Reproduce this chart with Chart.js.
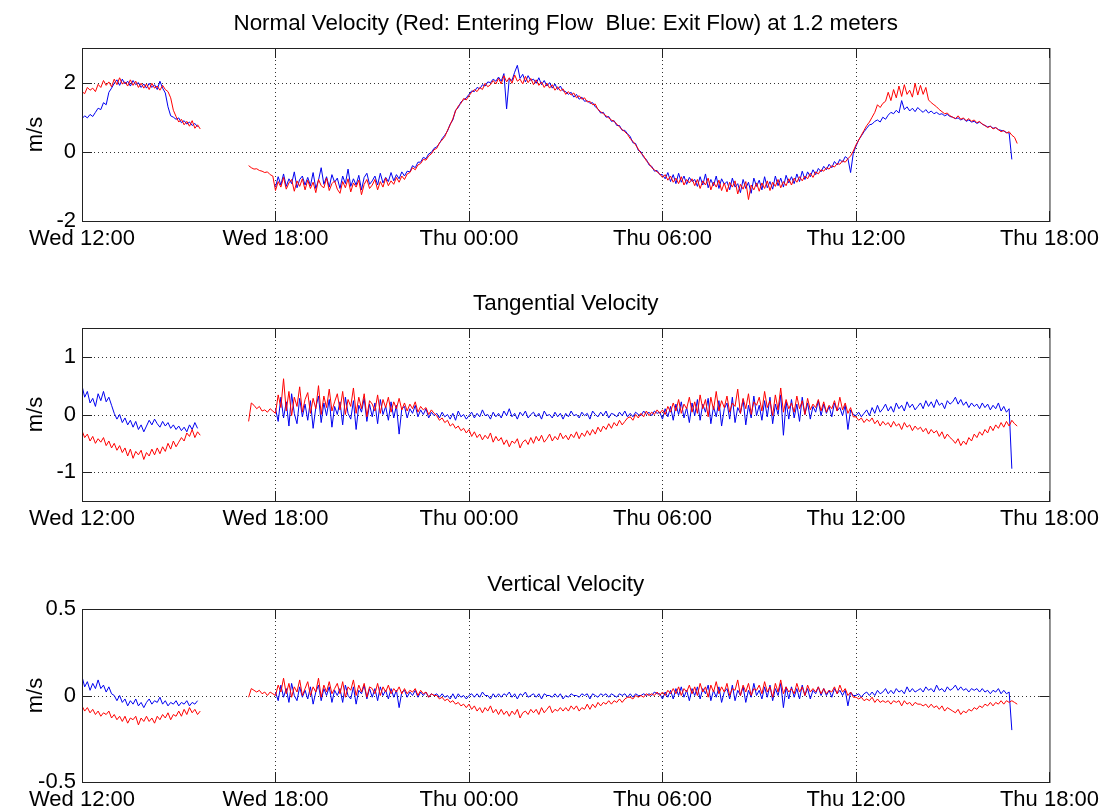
<!DOCTYPE html>
<html>
<head>
<meta charset="utf-8">
<title>Velocity at 1.2 meters</title>
<script src="https://cdn.jsdelivr.net/npm/chart.js@4.4.0/dist/chart.umd.min.js"></script>
<style>
  html, body { margin: 0; padding: 0; background: #fff; }
  #wrap { position: relative; width: 1104px; height: 812px; }
  #wrap canvas { position: absolute; left: 0; top: 0; }
</style>
</head>
<body>
<div id="wrap">
  <canvas id="c-normal" width="1104" height="812"></canvas>
  <canvas id="c-tang" width="1104" height="812"></canvas>
  <canvas id="c-vert" width="1104" height="812"></canvas>
</div>
<script>
// =============================================
// Velocity record, 5 minute samples
// time axis in hours after Wed 12:00
// segment A: Wed 12:00-15:40, segment B: Wed 17:10-Thu 17:00
// rows in segment B are one hour each (first row 17:10-17:55)
// =============================================

const xTickHours = [0, 6, 12, 18, 24, 30];
const xTickLabels = ['Wed 12:00', 'Wed 18:00', 'Thu 00:00', 'Thu 06:00', 'Thu 12:00', 'Thu 18:00'];

const STEP = 5 / 60;           // 5 minutes
const SEG_A_START = 0;         // Wed 12:00
const SEG_B_START = 5 + 10/60; // Wed 17:10
const N10 = [null,null,null,null,null,null,null,null,null,null];

// ---- Normal velocity (m/s)
const normalRedA = [
  1.74,1.68,1.86,1.78,1.84,1.74,1.95,1.86,2.06,1.92,2.02,1.88,
  2.10,1.94,2.14,1.96,2.02,1.90,2.08,1.92,2.04,1.86,1.98,1.84,
  1.96,1.80,1.98,1.84,1.90,1.78,1.92,1.80,1.74,1.56,1.20,1.02,
  0.86,0.94,0.78,0.88,0.74,0.90,0.68,0.78,0.66];
const normalBlueA = [
  0.96,1.04,0.98,1.08,1.02,1.14,1.26,1.22,1.42,1.36,1.72,1.84,
  1.98,2.08,1.92,2.10,1.96,2.04,1.90,2.06,1.94,2.00,1.86,1.96,
  1.84,1.98,1.86,1.94,1.80,2.04,1.84,1.70,1.30,1.04,1.00,0.94,
  0.98,0.84,0.90,0.80,0.86,0.76,0.82,0.72,null];
const normalRedB = [
  -0.40,-0.46,-0.50,-0.49,-0.54,-0.56,-0.60,-0.58,-0.66,-0.70,
  -1.12,-0.86,-1.02,-0.74,-1.08,-0.90,-0.80,-1.14,-0.84,-1.00,-0.78,-1.10,
  -0.82,-1.06,-0.88,-1.18,-0.80,-0.98,-1.04,-0.76,-1.12,-0.92,-0.84,-1.08,
  -1.20,-0.86,-1.04,-0.78,-1.16,-0.90,-1.02,-0.82,-1.24,-0.94,-0.80,-1.06,
  -0.96,-0.80,-1.10,-0.86,-1.02,-0.76,-0.98,-0.84,-0.94,-0.74,-0.88,-0.70,
  -0.80,-0.64,-0.60,-0.46,-0.52,-0.38,-0.34,-0.22,-0.24,-0.12,-0.06,0.06,
  0.10,0.26,0.34,0.44,0.62,0.78,0.96,1.18,1.32,1.40,1.54,1.50,
  1.62,1.72,1.80,1.74,1.86,1.80,1.98,1.88,1.94,2.06,1.96,2.12,
  1.96,2.20,2.02,2.14,1.98,2.22,2.04,2.10,1.96,2.18,2.00,2.12,
  1.94,2.08,1.92,2.02,1.86,1.98,1.84,1.94,1.78,1.88,1.76,1.82,
  1.66,1.74,1.64,1.70,1.56,1.62,1.52,1.56,1.44,1.46,1.36,1.38,
  1.22,1.16,1.10,1.04,0.98,0.92,0.88,0.80,0.72,0.64,0.58,0.50,
  0.38,0.30,0.20,0.08,-0.04,-0.12,-0.26,-0.34,-0.46,-0.52,-0.58,-0.64,
  -0.74,-0.66,-0.82,-0.70,-0.88,-0.76,-0.92,-0.72,-0.96,-0.80,-0.90,-0.78,
  -0.98,-0.80,-1.06,-0.84,-0.96,-0.76,-1.10,-0.88,-1.02,-0.82,-1.12,-0.90,
  -1.16,-0.88,-1.02,-0.84,-1.22,-0.94,-1.08,-0.86,-1.38,-0.96,-1.10,-0.90,
  -1.14,-0.90,-1.06,-0.84,-1.12,-0.88,-1.00,-0.80,-1.04,-0.86,-0.98,-0.78,
  -0.96,-0.76,-0.88,-0.72,-0.84,-0.70,-0.78,-0.62,-0.74,-0.58,-0.64,-0.52,
  -0.56,-0.46,-0.50,-0.40,-0.44,-0.34,-0.36,-0.26,-0.30,-0.20,-0.12,0.02,
  0.20,0.34,0.48,0.62,0.76,0.86,1.00,1.14,1.36,1.28,1.40,1.46,
  1.72,1.48,1.80,1.56,1.90,1.60,1.94,1.66,1.78,1.58,1.98,1.64,
  1.92,1.66,1.86,1.50,1.42,1.36,1.30,1.22,1.16,1.10,1.12,1.04,
  1.00,0.96,1.04,0.94,0.98,0.90,0.96,0.88,0.92,0.84,0.88,0.80,
  0.76,0.70,0.74,0.66,0.70,0.64,0.58,0.62,0.54,0.58,0.48,0.42,
  0.24];
const normalBlueB = N10.concat([
  -1.02,-0.72,-0.96,-0.64,-1.00,-0.78,-0.92,-0.58,-1.04,-0.80,-0.70,-0.96,
  -0.74,-0.98,-0.60,-1.06,-0.82,-0.46,-0.94,-0.72,-1.02,-0.66,-0.88,-0.76,
  -1.06,-0.70,-0.92,-0.50,-1.00,-0.78,-0.96,-0.68,-1.10,-0.74,-0.62,-0.94,
  -0.84,-0.70,-0.96,-0.62,-0.90,-0.74,-0.86,-0.60,-0.84,-0.66,-0.78,-0.58,
  -0.70,-0.56,-0.58,-0.40,-0.46,-0.30,-0.30,-0.16,-0.20,-0.06,-0.02,0.10,
  0.14,0.24,0.38,0.48,0.60,0.80,0.92,1.20,1.28,1.44,1.50,1.56,
  1.66,1.76,1.74,1.86,1.82,1.94,1.90,2.02,2.00,2.10,2.04,2.16,
  2.04,2.26,1.24,2.12,2.06,2.30,2.50,2.12,2.24,2.02,2.20,2.06,
  2.10,1.98,2.14,1.94,2.06,1.90,2.00,1.84,1.96,1.80,1.90,1.76,
  1.74,1.66,1.72,1.58,1.66,1.52,1.58,1.46,1.48,1.40,1.42,1.30,
  1.24,1.12,1.14,1.00,1.02,0.88,0.90,0.76,0.76,0.62,0.62,0.52,
  0.44,0.26,0.24,0.04,0.00,-0.16,-0.22,-0.38,-0.42,-0.56,-0.54,-0.66,
  -0.66,-0.78,-0.60,-0.86,-0.66,-0.92,-0.62,-0.88,-0.70,-0.94,-0.74,-0.86,
  -0.80,-1.00,-0.72,-0.96,-0.64,-1.04,-0.80,-0.98,-0.70,-1.06,-0.78,-0.94,
  -0.86,-1.10,-0.76,-1.02,-0.92,-1.18,-0.80,-1.06,-0.88,-1.20,-0.76,-1.00,
  -0.82,-1.10,-0.72,-1.04,-0.86,-1.08,-0.70,-0.98,-0.76,-1.02,-0.68,-0.90,
  -0.72,-0.92,-0.64,-0.86,-0.56,-0.80,-0.58,-0.72,-0.52,-0.66,-0.48,-0.58,
  -0.42,-0.52,-0.36,-0.46,-0.28,-0.38,-0.22,-0.30,-0.14,-0.20,-0.60,-0.04,
  0.16,0.34,0.46,0.58,0.68,0.78,0.80,0.88,0.92,0.86,1.00,0.94,
  1.06,1.14,1.10,1.20,1.12,1.48,1.22,1.30,1.18,1.26,1.16,1.28,
  1.20,1.14,1.22,1.12,1.18,1.10,1.14,1.08,1.10,1.04,1.08,1.02,
  1.00,0.96,0.98,0.92,0.96,0.88,0.92,0.86,0.88,0.82,0.86,0.80,
  0.76,0.72,0.74,0.68,0.70,0.64,0.62,0.60,0.56,0.54,-0.22,null,
  null]);

// ---- Tangential velocity (m/s)
const tangRedA = [
  -0.28,-0.40,-0.34,-0.46,-0.38,-0.50,-0.42,-0.48,-0.40,-0.54,-0.46,-0.58,
  -0.50,-0.62,-0.54,-0.66,-0.58,-0.72,-0.60,-0.76,-0.64,-0.70,-0.62,-0.78,
  -0.66,-0.72,-0.60,-0.70,-0.58,-0.68,-0.56,-0.64,-0.50,-0.60,-0.46,-0.56,
  -0.48,-0.40,-0.46,-0.32,-0.38,-0.26,-0.40,-0.30,-0.36];
const tangBlueA = [
  0.50,0.30,0.40,0.20,0.28,0.14,0.36,0.24,0.40,0.22,0.30,0.16,
  0.02,-0.08,0.00,-0.14,-0.06,-0.18,-0.10,-0.22,-0.12,-0.26,-0.18,-0.30,
  -0.20,-0.10,-0.18,-0.08,-0.16,-0.22,-0.12,-0.20,-0.14,-0.24,-0.18,-0.26,
  -0.20,-0.28,-0.22,-0.30,-0.18,-0.26,-0.14,-0.24,null];
const tangRedB = [
  -0.12,0.20,0.16,0.10,0.14,0.06,0.08,0.04,0.10,0.06,
  0.02,0.34,0.12,0.62,0.06,0.40,-0.02,0.30,0.14,0.48,0.04,0.26,
  0.38,0.02,0.28,0.10,0.50,0.00,0.32,0.12,0.44,0.06,0.22,0.36,
  0.08,0.40,0.00,0.26,0.14,0.46,0.02,0.30,0.10,0.36,-0.04,0.24,
  0.18,0.06,0.34,0.02,0.26,0.12,0.30,0.04,0.22,0.10,0.28,0.08,
  0.20,0.06,0.18,0.10,0.22,0.04,0.14,0.08,0.12,0.00,0.08,0.02,
  -0.02,-0.10,-0.06,-0.14,-0.10,-0.20,-0.16,-0.24,-0.20,-0.28,-0.24,-0.32,
  -0.26,-0.38,-0.30,-0.40,-0.34,-0.44,-0.36,-0.42,-0.32,-0.48,-0.38,-0.46,
  -0.40,-0.52,-0.44,-0.56,-0.46,-0.50,-0.42,-0.58,-0.48,-0.44,-0.52,-0.40,
  -0.50,-0.38,-0.46,-0.36,-0.48,-0.42,-0.34,-0.46,-0.38,-0.44,-0.32,-0.42,
  -0.36,-0.44,-0.34,-0.40,-0.30,-0.42,-0.32,-0.38,-0.28,-0.36,-0.26,-0.34,
  -0.22,-0.30,-0.20,-0.26,-0.16,-0.24,-0.14,-0.20,-0.10,-0.18,-0.12,-0.06,
  -0.04,-0.10,0.00,-0.06,0.02,-0.04,0.06,-0.02,0.04,0.00,0.08,0.02,
  0.08,0.00,0.14,0.04,0.20,0.06,0.26,0.02,0.18,0.10,0.30,0.04,
  0.22,0.02,0.34,0.10,0.26,-0.04,0.30,0.08,0.40,0.06,0.24,0.12,
  0.32,0.04,0.20,0.14,0.44,0.02,0.28,0.10,0.36,0.00,0.22,0.16,
  0.30,0.06,0.40,0.12,0.24,-0.02,0.34,0.08,0.46,0.04,0.26,0.10,
  0.20,0.04,0.32,0.10,0.24,0.00,0.28,0.08,0.18,0.12,0.26,0.06,
  0.22,0.04,0.16,0.10,0.24,0.06,0.30,0.08,0.20,0.02,0.12,-0.04,
  -0.04,-0.10,-0.06,-0.14,-0.08,-0.12,-0.06,-0.16,-0.10,-0.20,-0.12,-0.18,
  -0.14,-0.22,-0.12,-0.20,-0.16,-0.26,-0.14,-0.22,-0.18,-0.28,-0.20,-0.26,
  -0.22,-0.30,-0.24,-0.34,-0.26,-0.32,-0.28,-0.38,-0.30,-0.42,-0.34,-0.40,
  -0.44,-0.50,-0.42,-0.54,-0.46,-0.52,-0.40,-0.46,-0.34,-0.40,-0.30,-0.36,
  -0.26,-0.32,-0.20,-0.28,-0.18,-0.24,-0.14,-0.22,-0.12,-0.20,-0.10,-0.16,
  -0.20];
const tangBlueB = N10.concat([
  0.10,-0.12,0.30,-0.06,0.22,-0.20,0.36,0.02,-0.16,0.28,-0.04,0.18,
  -0.10,0.24,-0.24,0.12,0.32,-0.14,0.20,-0.02,0.26,-0.22,0.14,0.00,
  0.22,-0.18,0.30,0.02,-0.08,0.24,-0.26,0.16,0.04,0.28,-0.12,0.18,
  -0.04,0.20,-0.16,0.26,0.00,0.14,-0.10,0.22,-0.06,0.16,-0.34,0.10,
  0.14,-0.06,0.10,0.02,0.16,-0.04,0.08,0.00,0.10,-0.06,0.04,-0.02,
  0.02,-0.06,0.04,-0.04,0.00,-0.08,0.02,-0.10,0.06,-0.04,0.00,-0.08,
  -0.02,0.04,-0.06,0.02,-0.04,0.08,-0.02,0.00,-0.08,0.04,-0.04,0.02,
  -0.06,0.06,-0.02,0.10,-0.04,0.02,-0.08,0.04,-0.02,0.06,-0.06,0.00,
  0.04,-0.04,0.02,-0.08,0.06,-0.02,0.00,-0.06,0.04,-0.04,0.02,-0.08,
  0.02,-0.04,0.06,-0.02,0.00,-0.06,0.04,-0.02,0.02,-0.08,0.06,0.00,
  -0.04,0.04,-0.02,0.06,-0.06,0.02,0.00,-0.04,0.04,-0.02,0.06,-0.04,
  0.02,-0.04,0.04,0.00,-0.02,0.06,0.00,0.04,-0.02,0.06,0.02,0.04,
  -0.08,0.10,-0.04,0.14,-0.10,0.18,0.00,0.22,-0.06,0.12,-0.14,0.20,
  -0.02,0.26,-0.10,0.18,0.04,0.28,-0.16,0.14,-0.04,0.24,-0.20,0.10,
  0.20,-0.08,0.30,-0.14,0.12,0.02,0.26,-0.18,0.16,-0.06,0.32,-0.02,
  0.16,-0.10,0.24,-0.04,0.30,-0.16,0.18,0.00,0.34,-0.36,0.22,-0.08,
  0.26,-0.06,0.18,-0.12,0.30,0.00,0.20,-0.08,0.14,0.04,0.24,-0.02,
  0.18,0.02,0.14,-0.04,0.20,0.06,0.12,-0.02,0.16,-0.26,0.08,0.00,
  -0.02,0.04,-0.04,0.02,0.08,-0.02,0.12,0.02,0.16,0.04,0.10,0.18,
  0.06,0.14,0.04,0.20,0.10,0.16,0.06,0.22,0.12,0.18,0.08,0.14,
  0.20,0.10,0.24,0.14,0.22,0.12,0.26,0.16,0.20,0.10,0.24,0.18,
  0.22,0.30,0.18,0.26,0.16,0.22,0.12,0.20,0.14,0.18,0.10,0.20,
  0.12,0.18,0.08,0.16,0.10,0.20,0.06,0.14,0.04,0.10,-0.94,null,
  null]);

// ---- Vertical velocity (m/s)
const vertRedA = [
  -0.06,-0.09,-0.07,-0.10,-0.08,-0.11,-0.09,-0.12,-0.10,-0.11,-0.09,-0.13,
  -0.11,-0.14,-0.12,-0.15,-0.12,-0.16,-0.13,-0.14,-0.12,-0.17,-0.13,-0.15,
  -0.12,-0.15,-0.13,-0.16,-0.12,-0.14,-0.11,-0.13,-0.10,-0.14,-0.11,-0.12,
  -0.09,-0.12,-0.08,-0.11,-0.07,-0.10,-0.08,-0.11,-0.09];
const vertBlueA = [
  0.11,0.05,0.08,0.03,0.07,0.04,0.09,0.04,0.06,0.02,0.05,0.01,
  0.00,-0.03,0.00,-0.04,-0.02,-0.06,-0.03,-0.05,-0.02,-0.06,-0.04,-0.07,
  -0.04,-0.02,-0.05,-0.03,-0.04,-0.01,-0.05,-0.03,-0.06,-0.04,-0.05,-0.03,
  -0.06,-0.04,-0.05,-0.03,-0.06,-0.04,-0.05,-0.03,null];
const vertRedB = [
  -0.01,0.04,0.03,0.02,0.03,0.01,0.02,0.00,0.02,0.01,
  0.00,0.06,0.02,0.10,0.01,0.07,-0.01,0.05,0.02,0.09,0.00,0.04,
  0.08,0.00,0.05,0.02,0.10,-0.01,0.06,0.02,0.08,0.01,0.04,0.07,
  0.01,0.08,-0.01,0.05,0.03,0.09,0.00,0.06,0.02,0.07,-0.01,0.05,
  0.04,0.01,0.07,0.00,0.05,0.02,0.06,0.01,0.04,0.02,0.05,0.01,
  0.04,0.01,0.03,0.02,0.04,0.00,0.03,0.01,0.02,-0.01,0.01,0.00,
  0.00,-0.02,-0.01,-0.03,-0.02,-0.04,-0.03,-0.05,-0.04,-0.06,-0.05,-0.07,
  -0.05,-0.08,-0.06,-0.09,-0.07,-0.10,-0.07,-0.09,-0.06,-0.10,-0.08,-0.11,
  -0.08,-0.11,-0.09,-0.12,-0.09,-0.11,-0.08,-0.13,-0.10,-0.09,-0.11,-0.08,
  -0.10,-0.08,-0.11,-0.07,-0.10,-0.08,-0.06,-0.10,-0.08,-0.09,-0.07,-0.09,
  -0.07,-0.09,-0.06,-0.08,-0.06,-0.09,-0.07,-0.08,-0.05,-0.08,-0.05,-0.07,
  -0.04,-0.06,-0.04,-0.05,-0.03,-0.05,-0.03,-0.04,-0.02,-0.04,-0.02,-0.01,
  -0.01,-0.02,0.00,-0.01,0.00,-0.01,0.01,0.00,0.01,0.00,0.02,0.00,
  0.02,0.00,0.03,0.01,0.04,0.01,0.05,0.00,0.04,0.02,0.06,0.01,
  0.05,0.00,0.07,0.02,0.05,-0.01,0.06,0.02,0.08,0.01,0.05,0.02,
  0.07,0.00,0.04,0.03,0.09,0.00,0.06,0.02,0.07,0.00,0.04,0.03,
  0.06,0.01,0.08,0.02,0.05,-0.01,0.07,0.02,0.09,0.01,0.05,0.02,
  0.04,0.01,0.07,0.02,0.05,0.00,0.06,0.02,0.04,0.02,0.05,0.01,
  0.04,0.01,0.03,0.02,0.05,0.01,0.06,0.02,0.04,0.00,0.02,-0.01,
  -0.01,-0.02,-0.01,-0.03,-0.02,-0.03,-0.01,-0.04,-0.02,-0.04,-0.03,-0.04,
  -0.03,-0.05,-0.03,-0.04,-0.03,-0.06,-0.03,-0.05,-0.04,-0.06,-0.04,-0.05,
  -0.05,-0.06,-0.05,-0.07,-0.05,-0.07,-0.06,-0.08,-0.06,-0.09,-0.07,-0.08,
  -0.09,-0.10,-0.08,-0.11,-0.09,-0.10,-0.08,-0.09,-0.07,-0.08,-0.06,-0.07,
  -0.05,-0.06,-0.04,-0.06,-0.04,-0.05,-0.03,-0.05,-0.03,-0.04,-0.03,-0.04,
  -0.05];
const vertBlueB = N10.concat([
  0.02,-0.03,0.06,-0.01,0.04,-0.04,0.07,0.00,-0.03,0.05,-0.01,0.03,
  -0.02,0.05,-0.05,0.02,0.06,-0.03,0.04,0.00,0.05,-0.04,0.03,0.00,
  0.04,-0.04,0.06,0.00,-0.02,0.05,-0.05,0.03,0.01,0.06,-0.02,0.04,
  -0.01,0.04,-0.03,0.05,0.00,0.03,-0.02,0.04,-0.01,0.03,-0.07,0.02,
  0.03,-0.01,0.02,0.00,0.03,-0.01,0.02,0.00,0.02,-0.01,0.01,0.00,
  0.01,-0.01,0.01,-0.01,0.00,-0.02,0.01,-0.02,0.01,-0.01,0.00,-0.02,
  0.00,0.01,-0.01,0.01,-0.01,0.02,0.00,0.00,-0.02,0.01,-0.01,0.01,
  -0.01,0.01,0.00,0.02,-0.01,0.01,-0.02,0.01,0.00,0.02,-0.01,0.00,
  0.01,-0.01,0.01,-0.02,0.01,0.00,0.00,-0.01,0.01,-0.01,0.01,-0.02,
  0.00,-0.01,0.01,0.00,0.00,-0.01,0.01,0.00,0.01,-0.02,0.01,0.00,
  -0.01,0.01,0.00,0.01,-0.01,0.01,0.00,-0.01,0.01,0.00,0.01,-0.01,
  0.01,-0.01,0.01,0.00,0.00,0.01,0.00,0.01,0.00,0.02,0.01,0.01,
  -0.02,0.02,-0.01,0.03,-0.02,0.04,0.00,0.05,-0.01,0.03,-0.03,0.04,
  0.00,0.05,-0.02,0.04,0.01,0.06,-0.03,0.03,-0.01,0.05,-0.04,0.02,
  0.04,-0.02,0.06,-0.03,0.03,0.00,0.05,-0.04,0.03,-0.01,0.07,0.00,
  0.03,-0.02,0.05,-0.01,0.06,-0.03,0.04,0.00,0.07,-0.07,0.05,-0.02,
  0.05,-0.01,0.04,-0.02,0.06,0.00,0.04,-0.02,0.03,0.01,0.05,0.00,
  0.04,0.00,0.03,-0.01,0.04,0.01,0.03,0.00,0.03,-0.06,0.02,0.00,
  0.00,0.01,-0.01,0.01,0.02,0.00,0.02,0.00,0.03,0.01,0.02,0.04,
  0.01,0.03,0.01,0.04,0.02,0.03,0.01,0.05,0.02,0.04,0.02,0.03,
  0.04,0.02,0.05,0.03,0.04,0.02,0.06,0.03,0.04,0.02,0.05,0.03,
  0.04,0.06,0.03,0.05,0.03,0.04,0.02,0.04,0.03,0.04,0.02,0.04,
  0.02,0.03,0.01,0.03,0.02,0.04,0.01,0.03,0.01,0.02,-0.20,null,
  null]);

// ---- look
const PAGE_W = 1104, PAGE_H = 812;
const X_AXIS_H = 24;
const TICK_LEN = 10;
const FAMILY = 'Arial, "Liberation Sans", Helvetica, sans-serif';
const FONT = { family: FAMILY, size: 22, weight: 'normal', lineHeight: 1.2 };
const TITLE_FONT = { family: FAMILY, size: 22.4, weight: 'normal', lineHeight: 1.2 };
const RED = '#ff0000';
const BLUE = '#0000f0';

function toPoints(segA, segB) {
  const pts = segA.map((v, i) => ({ x: SEG_A_START + i * STEP, y: v }));
  pts.push({ x: 4.5, y: null }); // recording gap
  segB.forEach((v, j) => pts.push({ x: SEG_B_START + j * STEP, y: v }));
  return pts;
}

// matlab-ish axes: dotted grid under the data, box + inner ticks on top
const matlabAxes = {
  id: 'matlabAxes',
  beforeDatasetsDraw(chart) {
    const { ctx, chartArea: a, scales: { x, y } } = chart;
    ctx.save();
    ctx.strokeStyle = '#333';
    ctx.lineWidth = 1;
    ctx.setLineDash([1, 3]);
    x.ticks.forEach(t => {
      const px = Math.round(x.getPixelForValue(t.value)) + 0.5;
      if (px < a.left + 2 || px > a.right - 2) return;
      ctx.beginPath(); ctx.moveTo(px, a.top); ctx.lineTo(px, a.bottom); ctx.stroke();
    });
    y.ticks.forEach(t => {
      const py = Math.round(y.getPixelForValue(t.value)) + 0.5;
      if (py < a.top + 2 || py > a.bottom - 2) return;
      ctx.beginPath(); ctx.moveTo(a.left, py); ctx.lineTo(a.right, py); ctx.stroke();
    });
    ctx.restore();
  },
  afterDatasetsDraw(chart) {
    const { ctx, chartArea: a, scales: { x, y } } = chart;
    ctx.save();
    ctx.strokeStyle = '#222';
    ctx.lineWidth = 1;
    ctx.setLineDash([]);
    ctx.beginPath();
    x.ticks.forEach(t => {
      const px = Math.round(x.getPixelForValue(t.value)) + 0.5;
      ctx.moveTo(px, a.bottom); ctx.lineTo(px, a.bottom - TICK_LEN);
      ctx.moveTo(px, a.top); ctx.lineTo(px, a.top + TICK_LEN);
    });
    y.ticks.forEach(t => {
      const py = Math.round(y.getPixelForValue(t.value)) + 0.5;
      ctx.moveTo(a.left, py); ctx.lineTo(a.left + TICK_LEN, py);
      ctx.moveTo(a.right, py); ctx.lineTo(a.right - TICK_LEN, py);
    });
    ctx.stroke();
    ctx.strokeRect(a.left + 0.5, a.top + 0.5, a.right - a.left, a.bottom - a.top);
    ctx.restore();
  }
};

function makePanel(id, box, titleText, red, blue, yMin, yMax, yTicks, yTickText) {
  const half = TITLE_FONT.size * TITLE_FONT.lineHeight / 2;
  return new Chart(document.getElementById(id), {
    type: 'line',
    data: {
      datasets: [
        { label: 'Entering Flow', data: red, borderColor: RED, borderWidth: 1, pointRadius: 0, tension: 0, spanGaps: false },
        { label: 'Exit Flow', data: blue, borderColor: BLUE, borderWidth: 1, pointRadius: 0, tension: 0, spanGaps: false }
      ]
    },
    options: {
      responsive: false,
      animation: false,
      devicePixelRatio: 1,
      events: [],
      layout: { padding: { left: 0, right: PAGE_W - box.right, top: 0, bottom: PAGE_H - box.bottom - X_AXIS_H } },
      plugins: {
        legend: { display: false },
        tooltip: { enabled: false },
        title: {
          display: true, fullSize: false, text: titleText, color: '#000', font: TITLE_FONT,
          padding: { top: box.titleY - half, bottom: box.top - box.titleY - half }
        }
      },
      scales: {
        x: {
          type: 'linear', min: xTickHours[0], max: xTickHours[xTickHours.length - 1],
          grid: { display: false, drawTicks: false },
          border: { display: false },
          afterBuildTicks: s => { s.ticks = xTickHours.map(v => ({ value: v })); },
          afterFit: s => { s.height = X_AXIS_H; },
          ticks: { autoSkip: false, maxRotation: 0, padding: 5, color: '#000', font: FONT, callback: (v, i) => xTickLabels[i] }
        },
        y: {
          type: 'linear', min: yMin, max: yMax,
          grid: { display: false, drawTicks: false },
          border: { display: false },
          afterBuildTicks: s => { s.ticks = yTicks.map(v => ({ value: v })); },
          afterFit: s => { s.width = box.left; },
          ticks: { padding: 6, color: '#000', font: FONT, callback: (v, i) => yTickText[i] },
          title: { display: true, text: 'm/s', color: '#000', font: FONT, padding: { top: 23, bottom: 0 } }
        }
      }
    },
    plugins: [matlabAxes]
  });
}

makePanel('c-normal', { left: 82, right: 1050, top: 48, bottom: 221, titleY: 23.5 },
  'Normal Velocity (Red: Entering Flow  Blue: Exit Flow) at 1.2 meters',
  toPoints(normalRedA, normalRedB), toPoints(normalBlueA, normalBlueB),
  -2, 3, [-2, 0, 2], ['-2', '0', '2']);

makePanel('c-tang', { left: 82, right: 1050, top: 328, bottom: 501, titleY: 304 },
  'Tangential Velocity',
  toPoints(tangRedA, tangRedB), toPoints(tangBlueA, tangBlueB),
  -1.5, 1.5, [-1, 0, 1], ['-1', '0', '1']);

makePanel('c-vert', { left: 82, right: 1050, top: 609, bottom: 782, titleY: 584.5 },
  'Vertical Velocity',
  toPoints(vertRedA, vertRedB), toPoints(vertBlueA, vertBlueB),
  -0.5, 0.5, [-0.5, 0, 0.5], ['-0.5', '0', '0.5']);
</script>
</body>
</html>
